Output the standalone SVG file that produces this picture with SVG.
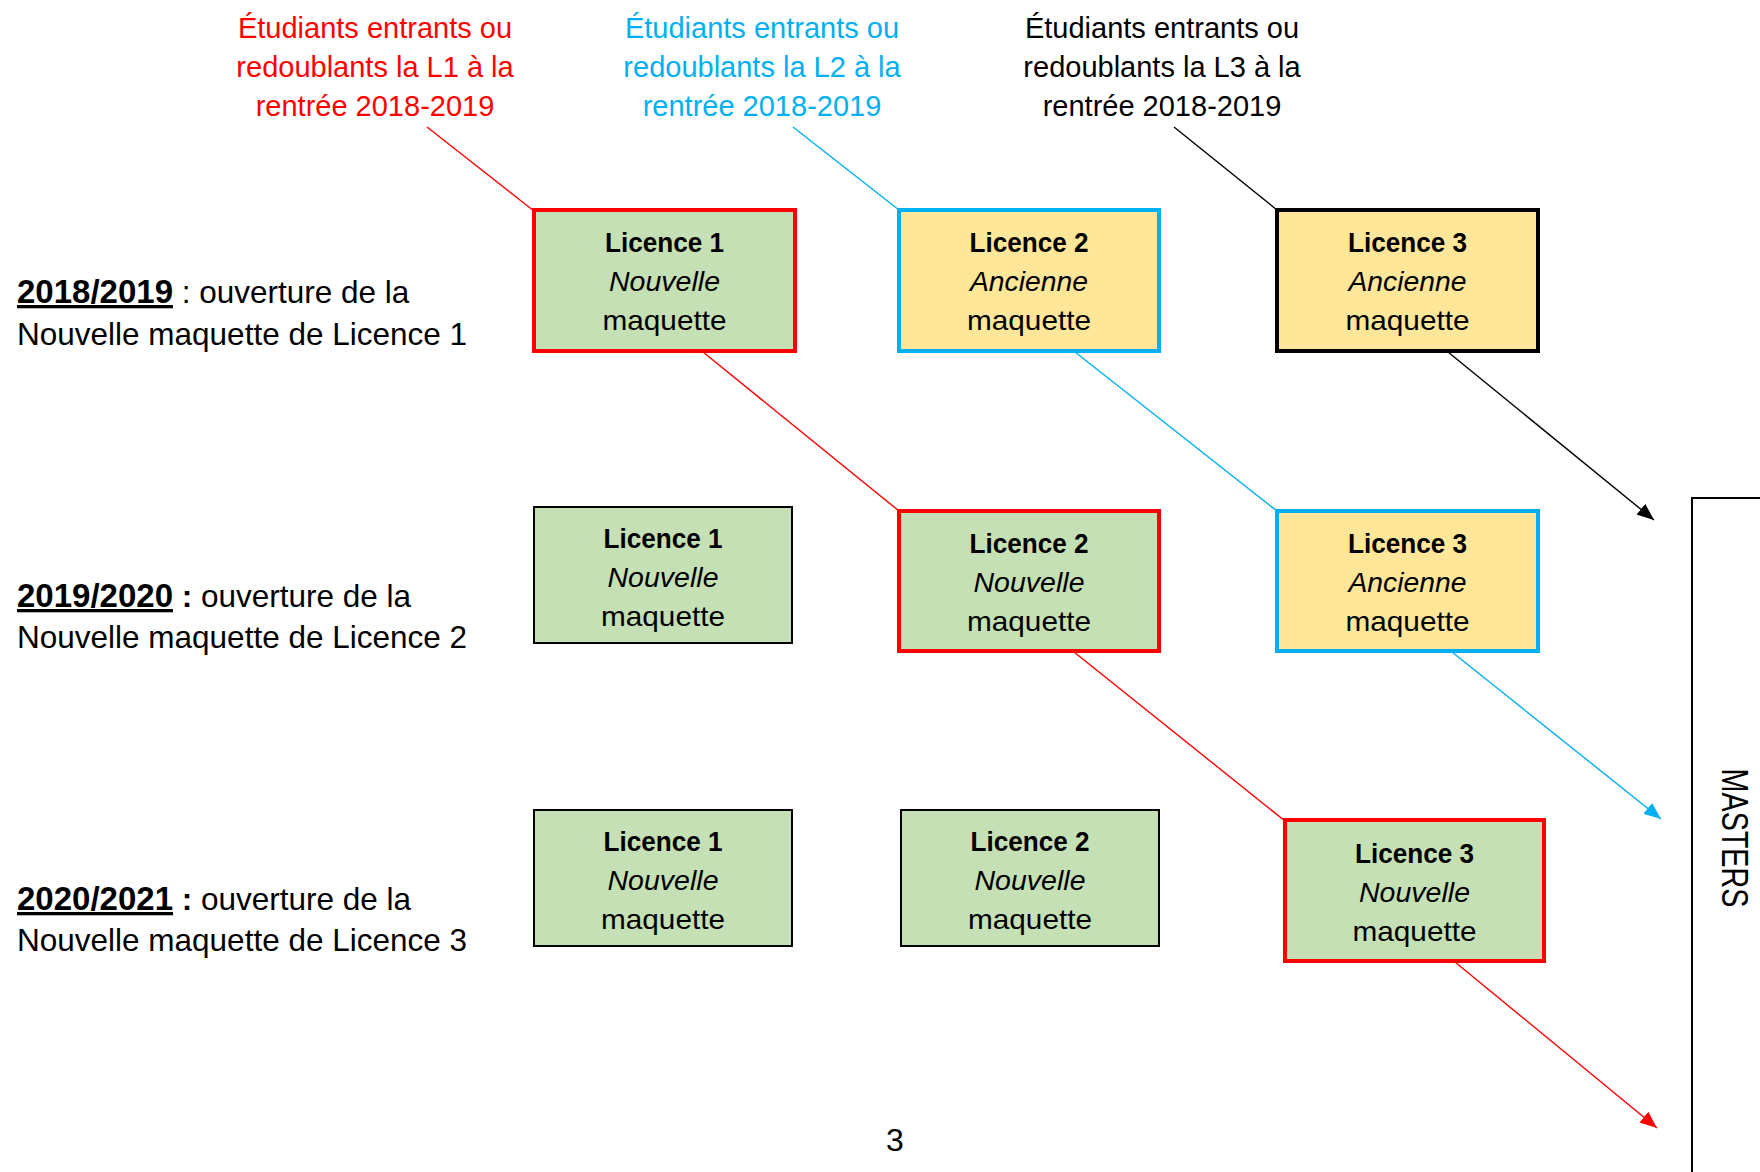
<svg xmlns="http://www.w3.org/2000/svg" width="1760" height="1172" viewBox="0 0 1760 1172">
<defs>
<style>
text{font-family:"Liberation Sans",Arial,sans-serif;fill:#000}
.lbl{font-size:29px;text-anchor:middle}
.red{fill:#FF0000}
.blue{fill:#00B0F0}
.side{font-size:31.5px}
.b{font-weight:bold}
.u{text-decoration:underline}
.yr{font-size:33px}
.bx{font-size:28px;text-anchor:middle}
.i{font-style:italic}
.nv{fill:#C5E0B4}
.an{fill:#FFE699}
.sr{stroke:#FF0000;stroke-width:4}
.sb{stroke:#00B0F0;stroke-width:4}
.sk{stroke:#000;stroke-width:4}
.st{stroke:#000;stroke-width:2}
.c{fill:none;stroke-width:1.4}
</style>
<marker id="ar" markerUnits="userSpaceOnUse" viewBox="0 0 17 14" refX="17" refY="7" markerWidth="17" markerHeight="14" orient="auto"><path d="M0,0 L17,7 L0,14 z" fill="#FF0000"/></marker>
<marker id="ab" markerUnits="userSpaceOnUse" viewBox="0 0 17 14" refX="17" refY="7" markerWidth="17" markerHeight="14" orient="auto"><path d="M0,0 L17,7 L0,14 z" fill="#00B0F0"/></marker>
<marker id="ak" markerUnits="userSpaceOnUse" viewBox="0 0 17 14" refX="17" refY="7" markerWidth="17" markerHeight="14" orient="auto"><path d="M0,0 L17,7 L0,14 z" fill="#000"/></marker>
</defs>
<rect width="1760" height="1172" fill="#fff"/>

<g id="label-l1">
<text class="lbl red" x="375" y="38">Étudiants entrants ou</text>
<text class="lbl red" x="375" y="77">redoublants la L1 à la</text>
<text class="lbl red" x="375" y="116">rentrée 2018-2019</text>
</g>
<g id="label-l2">
<text class="lbl blue" x="762" y="38">Étudiants entrants ou</text>
<text class="lbl blue" x="762" y="77">redoublants la L2 à la</text>
<text class="lbl blue" x="762" y="116">rentrée 2018-2019</text>
</g>
<g id="label-l3">
<text class="lbl" x="1162" y="38">Étudiants entrants ou</text>
<text class="lbl" x="1162" y="77">redoublants la L3 à la</text>
<text class="lbl" x="1162" y="116">rentrée 2018-2019</text>
</g>

<g id="year-2018">
<text class="side" x="17" y="303"><tspan class="b u yr">2018/2019</tspan> : ouverture de la</text>
<text class="side" x="17" y="345">Nouvelle maquette de Licence 1</text>
</g>
<g id="year-2019">
<text class="side" x="17" y="607"><tspan class="b u yr">2019/2020</tspan><tspan class="b"> :</tspan> ouverture de la</text>
<text class="side" x="17" y="648">Nouvelle maquette de Licence 2</text>
</g>
<g id="year-2020">
<text class="side" x="17" y="910"><tspan class="b u yr">2020/2021</tspan><tspan class="b"> :</tspan> ouverture de la</text>
<text class="side" x="17" y="951">Nouvelle maquette de Licence 3</text>
</g>

<g id="connectors">
<line class="c" stroke="#FF0000" x1="427" y1="127" x2="534" y2="211"/>
<line class="c" stroke="#FF0000" x1="703" y1="352" x2="899" y2="511"/>
<line class="c" stroke="#FF0000" x1="1074" y1="652" x2="1285" y2="821"/>
<line class="c" stroke="#FF0000" x1="1455" y1="962" x2="1657" y2="1128" marker-end="url(#ar)"/>
<line class="c" stroke="#00B0F0" x1="793" y1="127" x2="899" y2="210"/>
<line class="c" stroke="#00B0F0" x1="1075" y1="352" x2="1277" y2="511"/>
<line class="c" stroke="#00B0F0" x1="1452" y1="652" x2="1661" y2="819" marker-end="url(#ab)"/>
<line class="c" stroke="#000" x1="1174" y1="127" x2="1277" y2="210"/>
<line class="c" stroke="#000" x1="1448" y1="352" x2="1654" y2="520" marker-end="url(#ak)"/>
</g>

<g id="r1-l1">
<rect class="nv sr" x="534" y="210" width="261" height="141"/>
<text class="bx b" x="664.5" y="252" textLength="119" lengthAdjust="spacingAndGlyphs">Licence 1</text>
<text class="bx i" x="664.5" y="291" textLength="111" lengthAdjust="spacingAndGlyphs">Nouvelle</text>
<text class="bx" x="664.5" y="330" textLength="124" lengthAdjust="spacingAndGlyphs">maquette</text>
</g>
<g id="r1-l2">
<rect class="an sb" x="899" y="210" width="260" height="141"/>
<text class="bx b" x="1029" y="252" textLength="119" lengthAdjust="spacingAndGlyphs">Licence 2</text>
<text class="bx i" x="1029" y="291" textLength="118" lengthAdjust="spacingAndGlyphs">Ancienne</text>
<text class="bx" x="1029" y="330" textLength="124" lengthAdjust="spacingAndGlyphs">maquette</text>
</g>
<g id="r1-l3">
<rect class="an sk" x="1277" y="210" width="261" height="141"/>
<text class="bx b" x="1407.5" y="252" textLength="119" lengthAdjust="spacingAndGlyphs">Licence 3</text>
<text class="bx i" x="1407.5" y="291" textLength="118" lengthAdjust="spacingAndGlyphs">Ancienne</text>
<text class="bx" x="1407.5" y="330" textLength="124" lengthAdjust="spacingAndGlyphs">maquette</text>
</g>

<g id="r2-l1">
<rect class="nv st" x="534" y="507" width="258" height="136"/>
<text class="bx b" x="663" y="548" textLength="119" lengthAdjust="spacingAndGlyphs">Licence 1</text>
<text class="bx i" x="663" y="587" textLength="111" lengthAdjust="spacingAndGlyphs">Nouvelle</text>
<text class="bx" x="663" y="626" textLength="124" lengthAdjust="spacingAndGlyphs">maquette</text>
</g>
<g id="r2-l2">
<rect class="nv sr" x="899" y="511" width="260" height="140"/>
<text class="bx b" x="1029" y="553" textLength="119" lengthAdjust="spacingAndGlyphs">Licence 2</text>
<text class="bx i" x="1029" y="592" textLength="111" lengthAdjust="spacingAndGlyphs">Nouvelle</text>
<text class="bx" x="1029" y="631" textLength="124" lengthAdjust="spacingAndGlyphs">maquette</text>
</g>
<g id="r2-l3">
<rect class="an sb" x="1277" y="511" width="261" height="140"/>
<text class="bx b" x="1407.5" y="553" textLength="119" lengthAdjust="spacingAndGlyphs">Licence 3</text>
<text class="bx i" x="1407.5" y="592" textLength="118" lengthAdjust="spacingAndGlyphs">Ancienne</text>
<text class="bx" x="1407.5" y="631" textLength="124" lengthAdjust="spacingAndGlyphs">maquette</text>
</g>

<g id="r3-l1">
<rect class="nv st" x="534" y="810" width="258" height="136"/>
<text class="bx b" x="663" y="851" textLength="119" lengthAdjust="spacingAndGlyphs">Licence 1</text>
<text class="bx i" x="663" y="890" textLength="111" lengthAdjust="spacingAndGlyphs">Nouvelle</text>
<text class="bx" x="663" y="929" textLength="124" lengthAdjust="spacingAndGlyphs">maquette</text>
</g>
<g id="r3-l2">
<rect class="nv st" x="901" y="810" width="258" height="136"/>
<text class="bx b" x="1030" y="851" textLength="119" lengthAdjust="spacingAndGlyphs">Licence 2</text>
<text class="bx i" x="1030" y="890" textLength="111" lengthAdjust="spacingAndGlyphs">Nouvelle</text>
<text class="bx" x="1030" y="929" textLength="124" lengthAdjust="spacingAndGlyphs">maquette</text>
</g>
<g id="r3-l3">
<rect class="nv sr" x="1285" y="820" width="259" height="141"/>
<text class="bx b" x="1414.5" y="863" textLength="119" lengthAdjust="spacingAndGlyphs">Licence 3</text>
<text class="bx i" x="1414.5" y="902" textLength="111" lengthAdjust="spacingAndGlyphs">Nouvelle</text>
<text class="bx" x="1414.5" y="941" textLength="124" lengthAdjust="spacingAndGlyphs">maquette</text>
</g>

<g id="masters">
<path d="M1764,498 H1692 V1176" fill="none" stroke="#000" stroke-width="2"/>
<text transform="translate(1722,838) rotate(90)" x="0" y="0" font-size="36" text-anchor="middle" textLength="139" lengthAdjust="spacingAndGlyphs">MASTERS</text>
</g>

<g id="page-number">
<text x="895" y="1151" font-family="Liberation Serif, Times New Roman, serif" font-size="32" text-anchor="middle">3</text>
</g>
</svg>
